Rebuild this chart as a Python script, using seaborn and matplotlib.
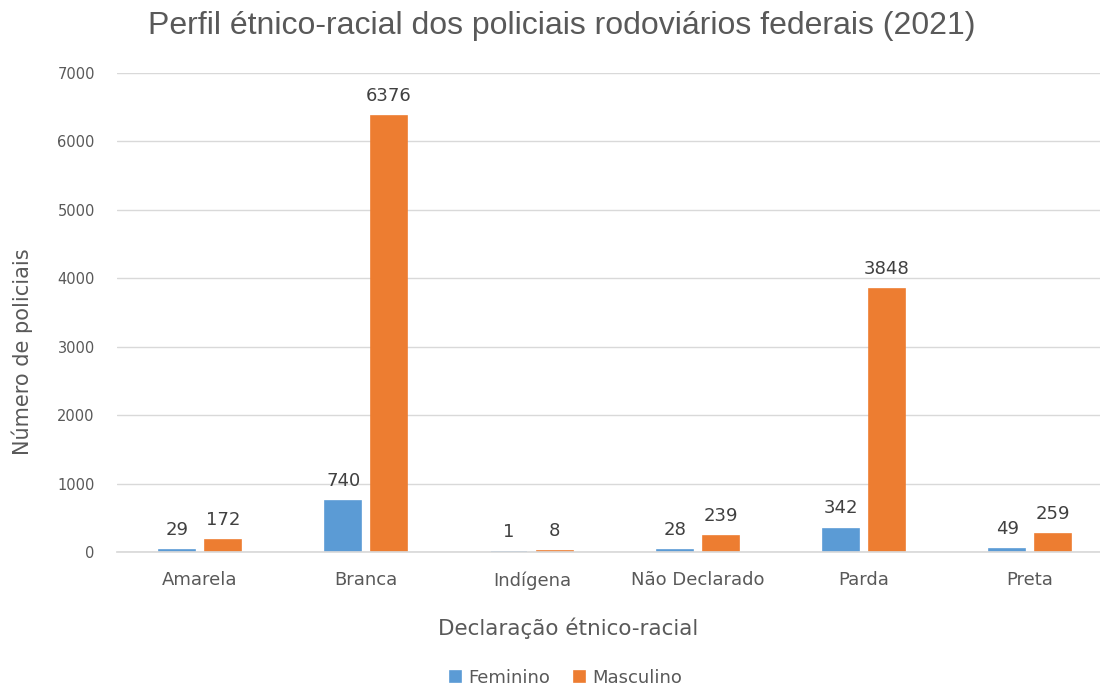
import numpy as np
import pandas as pd
import matplotlib.pyplot as plt
import seaborn as sns

# Data
categorias = ['Amarela', 'Branca', 'Indígena', 'Não Declarado', 'Parda', 'Preta']
feminino = [29, 740, 1, 28, 342, 49]
masculino = [172, 6376, 8, 239, 3848, 259]
series = ['Feminino', 'Masculino']
yticks = [0, 1000, 2000, 3000, 4000, 5000, 6000, 7000]

df = pd.DataFrame({
    'categoria': categorias * 2,
    'sexo': ['Feminino'] * len(categorias) + ['Masculino'] * len(categorias),
    'valor': feminino + masculino,
})

sns.set_theme(style='white')
plt.rcParams['font.family'] = ['DejaVu Sans']
text_color = '#595959'

fig = plt.figure(figsize=(11, 6.88), dpi=100)
ax = fig.add_axes([117 / 1100, (688 - 552) / 688, 996 / 1100, (552 - 73) / 688])

palette = {'Feminino': '#5B9BD5', 'Masculino': '#ED7D31'}
sns.barplot(data=df, x='categoria', y='valor', hue='sexo', hue_order=series,
            order=categorias, palette=palette, width=0.55, gap=0.2,
            saturation=1, ax=ax, legend=True)

# outline in own colour so very small values still show as a thin bar
for bar in ax.patches:
    bar.set_edgecolor(bar.get_facecolor())
    bar.set_linewidth(1.2)

# value labels
for container, vals in zip(ax.containers, [feminino, masculino]):
    ax.bar_label(container, labels=[str(v) for v in vals], padding=8,
                 fontsize=13, color='#404040')

ax.set_xlim(-0.5, 5.5)
ax.set_ylim(0, 7000)
ax.set_yticks(yticks)
ax.yaxis.grid(True, color='#D9D9D9', linewidth=1)
ax.set_axisbelow(True)
for s in ['top', 'right', 'left']:
    ax.spines[s].set_visible(False)
ax.spines['bottom'].set_color('#D9D9D9')
ax.tick_params(axis='x', length=0, pad=14, labelsize=13, labelcolor=text_color)
ax.tick_params(axis='y', length=0, pad=16, labelsize=10.5, labelcolor=text_color)

ax.set_xlabel('Declaração étnico-racial', fontsize=15.5, color=text_color)
ax.set_ylabel('Número de policiais', fontsize=15, color=text_color)
ax.xaxis.set_label_coords((568 - 117) / 996, -(628 - 552) / 479)
ax.yaxis.set_label_coords(-(117 - 22) / 996, (552 - 352) / 479)
ax.xaxis.label.set_va('center')
ax.yaxis.label.set_va('center')

fig.text(0.511, 0.962, 'Perfil étnico-racial dos policiais rodoviários federais (2021)',
         ha='center', va='center', fontsize=23, color=text_color,
         family='Liberation Sans')

ax.legend(loc='center', bbox_to_anchor=(566 / 1100, (688 - 678) / 688),
          bbox_transform=fig.transFigure, ncol=2, frameon=False, fontsize=13,
          handlelength=0.6, handleheight=0.6, handletextpad=0.4,
          columnspacing=1.3, labelcolor=text_color)

fig.savefig('out.png', dpi=100)
